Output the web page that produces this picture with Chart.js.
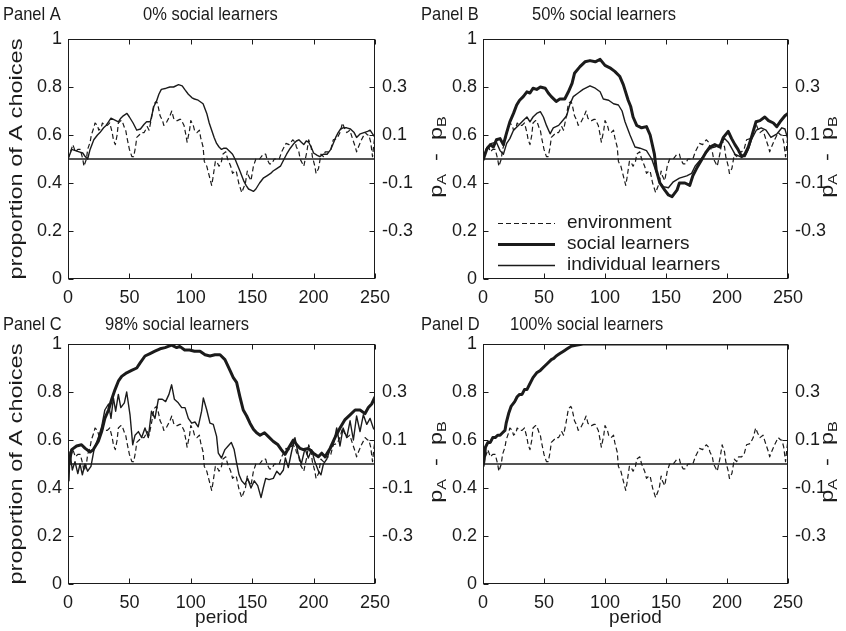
<!DOCTYPE html>
<html>
<head>
<meta charset="utf-8">
<script src="https://cdn.jsdelivr.net/npm/chart.js@4.4.1/dist/chart.umd.min.js"></script>
<style>
  html, body { margin: 0; padding: 0; background: #fff; }
  #wrap { position: relative; width: 846px; height: 631px; overflow: hidden; }
  canvas { position: absolute; }
</style>
</head>
<body>
<div id="wrap">
  <canvas id="panelA"></canvas>
  <canvas id="panelB"></canvas>
  <canvas id="panelC"></canvas>
  <canvas id="panelD"></canvas>
</div>
<script>
// Axis ticks
const periodTicks = [0, 50, 100, 150, 200, 250];
const shareTicks = [0, 0.2, 0.4, 0.6, 0.8, 1];
const diffTicks = [-0.3, -0.1, 0.1, 0.3];

// Zero line (pA - pB = 0)
const refPeriod = [0, 250];
const refShare = [0.5, 0.5];

// Environment: which option pays more (same in every panel)
const envPeriod = [0, 2, 4, 6, 8, 10, 12, 13, 15, 16, 18, 19, 21, 22, 24, 25, 27, 28, 30, 32,
  34, 36, 37, 38.5, 40, 41, 43, 44, 46, 47, 48, 50, 52, 53.5, 55, 56, 58, 60, 62, 63,
  64.5, 66, 68, 70, 72, 73, 75, 77, 78, 80, 81, 83, 84.5, 86, 88, 89, 91, 92, 94.5, 96,
  97, 99, 100, 102, 103, 105, 107, 108, 110, 111, 113, 114, 116, 117, 118, 120, 121, 123, 125, 126,
  128.5, 130, 132.5, 134, 136, 137, 139, 141.5, 143, 144.5, 146, 147, 149, 151, 153, 156, 159, 161, 162, 164,
  166, 168, 169.5, 172, 174, 176, 177.5, 180, 183, 185, 186, 188, 189, 191, 192, 194.5, 196, 198, 199, 201,
  202, 204, 206, 208, 209.5, 212, 214, 216, 219, 221.5, 223.5, 225, 227, 229.5, 232, 234, 235, 236.5, 239, 242,
  244, 245, 246.5, 248, 249, 250];
const envShare = [0.50, 0.53, 0.56, 0.53, 0.54, 0.54, 0.50, 0.47, 0.50, 0.54, 0.57, 0.60, 0.63, 0.65, 0.64, 0.62, 0.63, 0.65, 0.64, 0.64,
  0.65, 0.61, 0.58, 0.56, 0.60, 0.65, 0.66, 0.66, 0.63, 0.62, 0.59, 0.54, 0.51, 0.51, 0.55, 0.59, 0.60, 0.61, 0.61, 0.62,
  0.635, 0.62, 0.67, 0.73, 0.74, 0.73, 0.68, 0.66, 0.64, 0.65, 0.66, 0.68, 0.70, 0.67, 0.66, 0.66, 0.665, 0.665, 0.64, 0.60,
  0.57, 0.62, 0.66, 0.64, 0.62, 0.61, 0.62, 0.59, 0.55, 0.49, 0.47, 0.45, 0.41, 0.39, 0.42, 0.49, 0.49, 0.47, 0.49, 0.52,
  0.53, 0.50, 0.47, 0.44, 0.45, 0.45, 0.40, 0.36, 0.38, 0.40, 0.45, 0.43, 0.41, 0.47, 0.50, 0.50, 0.52, 0.52, 0.50, 0.48,
  0.48, 0.50, 0.50, 0.50, 0.53, 0.55, 0.565, 0.56, 0.58, 0.57, 0.55, 0.53, 0.50, 0.48, 0.47, 0.53, 0.58, 0.55, 0.51, 0.47,
  0.44, 0.46, 0.52, 0.51, 0.53, 0.53, 0.54, 0.58, 0.585, 0.61, 0.65, 0.63, 0.61, 0.62, 0.58, 0.55, 0.53, 0.55, 0.58, 0.61,
  0.60, 0.60, 0.57, 0.51, 0.56, 0.60];

// Panel A: individual learners only
const aIndPeriod = [0, 3, 6, 9, 12, 14, 16, 18, 21, 24, 26, 29, 31, 33, 35, 37, 39, 41, 43, 45,
  48, 50, 53, 56, 59, 62, 64, 67, 70, 72, 74, 76, 80, 83, 86, 90, 93, 95, 98, 101,
  103, 106, 110, 113, 115, 117, 119, 121, 123, 125, 127, 129, 132, 134, 136, 138, 140, 143, 145, 147,
  149, 151, 153, 156, 159, 162, 165, 167, 170, 173, 176, 178, 181, 184, 186, 188, 190, 192, 194, 196,
  198, 200, 203, 205, 208, 211, 214, 216, 218, 220, 222, 224, 227, 230, 233, 235, 238, 241, 244, 246, 248, 250];
const aIndShare = [0.50, 0.54, 0.535, 0.53, 0.525, 0.51, 0.50, 0.54, 0.58, 0.60, 0.61, 0.63, 0.64, 0.655, 0.67, 0.665, 0.66, 0.655, 0.67, 0.68,
  0.69, 0.675, 0.65, 0.62, 0.625, 0.645, 0.655, 0.655, 0.72, 0.74, 0.77, 0.79, 0.795, 0.80, 0.80, 0.81, 0.805, 0.79, 0.77, 0.755,
  0.75, 0.745, 0.73, 0.69, 0.65, 0.62, 0.59, 0.565, 0.55, 0.54, 0.545, 0.545, 0.53, 0.52, 0.50, 0.475, 0.45, 0.41, 0.39, 0.375,
  0.37, 0.365, 0.375, 0.40, 0.42, 0.43, 0.44, 0.45, 0.46, 0.47, 0.50, 0.52, 0.545, 0.565, 0.575, 0.58, 0.57, 0.56, 0.575, 0.57,
  0.55, 0.525, 0.515, 0.51, 0.52, 0.52, 0.54, 0.565, 0.59, 0.61, 0.625, 0.63, 0.63, 0.625, 0.61, 0.59, 0.605, 0.61, 0.615, 0.62, 0.605, 0.59];

// Panel B: 50% social learners
const bSocPeriod = [0, 3, 6, 8.5, 11, 14, 16.7, 19.4, 22, 25, 27.6, 30, 33, 36, 38.5, 41, 44, 47, 51, 53.5,
  56, 60, 63, 67, 70, 73, 75, 79.5, 83.6, 87.7, 92, 96, 100, 104, 108, 112, 115, 119, 121, 123,
  126, 130, 134, 137, 140.5, 142, 145, 149, 152, 155, 159, 161, 165.5, 169.5, 172, 175, 179, 183, 186, 190,
  194, 197, 201, 203.8, 206.5, 209, 212, 214.7, 217.5, 220, 223.8, 227, 231, 234, 238, 240.8, 243.5, 247.5, 250];
const bSocShare = [0.495, 0.54, 0.56, 0.55, 0.58, 0.585, 0.56, 0.61, 0.655, 0.69, 0.725, 0.745, 0.76, 0.78, 0.775, 0.795, 0.79, 0.80, 0.795, 0.775,
  0.76, 0.74, 0.75, 0.75, 0.78, 0.815, 0.857, 0.885, 0.905, 0.91, 0.905, 0.915, 0.89, 0.88, 0.865, 0.845, 0.81, 0.745, 0.72, 0.675,
  0.64, 0.63, 0.635, 0.60, 0.52, 0.455, 0.40, 0.37, 0.35, 0.343, 0.37, 0.40, 0.40, 0.39, 0.43, 0.46, 0.495, 0.53, 0.55, 0.56,
  0.55, 0.59, 0.615, 0.585, 0.56, 0.54, 0.51, 0.52, 0.55, 0.59, 0.655, 0.66, 0.675, 0.66, 0.65, 0.635, 0.655, 0.68, 0.69];
const bIndPeriod = [0, 3, 7, 11, 14, 16.7, 19.4, 22, 25, 29, 33, 36, 38.5, 41, 44, 47, 49.5, 52, 55, 57.6,
  62, 64.5, 68.6, 71, 74, 78, 82, 87.7, 92, 96, 98.6, 103, 107, 111, 114, 116.4, 120.5, 124.6, 128.7, 134,
  138.3, 141, 145, 147.8, 152, 156, 161, 167, 171, 173.8, 177.9, 182, 186, 190, 194, 198, 201, 203.8, 206.5, 210.7,
  214.7, 217.5, 220, 224, 228, 232, 236, 241, 245, 247.5, 250];
const bIndShare = [0.50, 0.545, 0.565, 0.57, 0.535, 0.52, 0.565, 0.585, 0.62, 0.64, 0.66, 0.675, 0.655, 0.675, 0.69, 0.697, 0.675, 0.64, 0.605, 0.63,
  0.64, 0.655, 0.68, 0.725, 0.76, 0.775, 0.79, 0.805, 0.795, 0.78, 0.75, 0.745, 0.73, 0.725, 0.70, 0.655, 0.60, 0.55, 0.545, 0.535,
  0.50, 0.46, 0.405, 0.385, 0.38, 0.405, 0.42, 0.43, 0.44, 0.47, 0.495, 0.52, 0.545, 0.55, 0.56, 0.585, 0.57, 0.545, 0.52, 0.51,
  0.51, 0.54, 0.58, 0.62, 0.63, 0.62, 0.59, 0.605, 0.63, 0.625, 0.58];

// Panel C: 98% social learners
const cSocPeriod = [0, 3, 7, 11, 14, 18, 20.6, 24.7, 27.4, 30, 33, 35.6, 38.3, 41, 43.7, 47.8, 51.8, 56, 58.6, 62.7,
  66.8, 70.8, 75, 79, 84.4, 88.5, 91, 95, 99, 103, 107.5, 111.6, 115.6, 119.7, 123.8, 127.8, 131.9, 134.6, 137.3, 140,
  142.7, 145.5, 148.2, 151, 153.6, 156.4, 160, 163, 167, 171, 173.7, 176.7, 179.4, 183.5, 186.3, 189, 191.6, 195.7, 199.8, 203.9,
  206.6, 209.3, 213.4, 217.4, 221.5, 225.6, 229.7, 233.8, 237.8, 241.9, 244.6, 247.3, 250];
const cSocShare = [0.48, 0.56, 0.575, 0.58, 0.565, 0.55, 0.56, 0.595, 0.635, 0.69, 0.725, 0.77, 0.81, 0.845, 0.865, 0.88, 0.89, 0.90, 0.92, 0.95,
  0.96, 0.97, 0.98, 0.985, 0.995, 0.985, 0.99, 0.975, 0.975, 0.97, 0.97, 0.955, 0.95, 0.955, 0.955, 0.935, 0.89, 0.86, 0.84, 0.78,
  0.725, 0.70, 0.67, 0.645, 0.63, 0.62, 0.63, 0.615, 0.595, 0.58, 0.56, 0.54, 0.565, 0.60, 0.58, 0.565, 0.56, 0.565, 0.545, 0.53,
  0.545, 0.53, 0.565, 0.61, 0.65, 0.685, 0.705, 0.725, 0.725, 0.71, 0.735, 0.75, 0.78];
const cIndPeriod = [0, 0.8, 1.6, 3.5, 5.7, 8, 9.8, 11.7, 13.8, 16, 18.7, 21.4, 24.7, 27.4, 30, 33, 35, 37, 38.8, 41,
  43, 45.9, 47.8, 50.5, 52.7, 54.6, 57.3, 60, 62.7, 65.4, 68, 70.8, 73.6, 76.8, 79.5, 82.2, 84.4, 86.6, 89.8, 92.6,
  95.3, 98, 100.7, 103.4, 106, 108.8, 110.2, 113, 115.6, 118.3, 121, 122.4, 125, 127.8, 130.4, 133, 135.3, 137.3, 139.3, 141.4,
  144, 146.3, 149, 151.7, 154.5, 157.2, 159, 161, 163.7, 167.2, 170, 172.6, 175.4, 177, 179.4, 182, 184.8, 187.5, 190, 193,
  195.7, 198.4, 201, 204, 206, 208, 210.7, 213.4, 216, 218.8, 221.5, 224, 227, 229.7, 232.4, 235, 237.8, 240.5, 243.3, 246,
  248.6, 250];
const cIndShare = [0.47, 0.43, 0.55, 0.475, 0.51, 0.46, 0.50, 0.455, 0.50, 0.47, 0.49, 0.565, 0.61, 0.655, 0.725, 0.75, 0.69, 0.775, 0.72, 0.79,
  0.735, 0.755, 0.80, 0.705, 0.58, 0.62, 0.635, 0.61, 0.65, 0.61, 0.72, 0.69, 0.77, 0.77, 0.76, 0.79, 0.83, 0.77, 0.755, 0.735,
  0.735, 0.69, 0.67, 0.675, 0.655, 0.72, 0.775, 0.725, 0.67, 0.665, 0.615, 0.545, 0.525, 0.56, 0.575, 0.59, 0.56, 0.505, 0.455, 0.43,
  0.415, 0.44, 0.40, 0.43, 0.41, 0.36, 0.40, 0.44, 0.435, 0.44, 0.47, 0.455, 0.475, 0.525, 0.485, 0.55, 0.61, 0.54, 0.50, 0.565,
  0.525, 0.56, 0.51, 0.47, 0.455, 0.50, 0.52, 0.56, 0.58, 0.65, 0.575, 0.65, 0.61, 0.68, 0.60, 0.70, 0.635, 0.705, 0.665, 0.69,
  0.65, 0.64];

// Panel D: 100% social learners
const dSocPeriod = [0, 1, 2, 4, 6, 8, 10, 12, 14, 16, 18, 19, 21, 23, 26, 28, 30, 32, 34, 36,
  38, 41, 44, 47, 50, 53, 56, 58, 60, 63, 66, 69, 72, 76, 82, 90, 250];
const dSocShare = [0.49, 0.52, 0.57, 0.59, 0.59, 0.61, 0.61, 0.62, 0.62, 0.63, 0.64, 0.67, 0.71, 0.74, 0.76, 0.78, 0.79, 0.79, 0.81, 0.81,
  0.83, 0.86, 0.88, 0.89, 0.905, 0.92, 0.935, 0.94, 0.95, 0.96, 0.97, 0.98, 0.99, 0.995, 1, 1, 1];

const FONT = '"Liberation Sans", Arial, Helvetica, sans-serif';
const INK = '#1b1b1b';
const STRETCH = 1.24; // rotated labels run long

Chart.defaults.font.family = FONT;
Chart.defaults.font.size = 18;
Chart.defaults.color = INK;

function pts(xs, ys) {
  return xs.map((x, i) => ({ x: x, y: ys[i] }));
}

function envSet() {
  return { label: 'environment', data: pts(envPeriod, envShare), borderColor: INK, borderWidth: 1.2, borderDash: [5, 3] };
}
function refSet() {
  return { label: 'zero', data: pts(refPeriod, refShare), borderColor: INK, borderWidth: 1.3 };
}
function socSet(xs, ys) {
  return { label: 'social learners', data: pts(xs, ys), borderColor: INK, borderWidth: 3 };
}
function indSet(xs, ys) {
  return { label: 'individual learners', data: pts(xs, ys), borderColor: INK, borderWidth: 1.4 };
}

// box, inward ticks, headings, axis labels and the legend
const decorPlugin = {
  id: 'decor',
  afterDatasetsDraw(chart) {
    const { ctx, chartArea: a, scales } = chart;
    const L = Math.round(a.left) + 0.5, R = Math.round(a.right) - 0.5;
    const T = Math.round(a.top) + 0.5, B = Math.round(a.bottom) - 0.5;
    ctx.save();
    ctx.strokeStyle = INK;
    ctx.lineWidth = 1;
    ctx.setLineDash([]);
    ctx.strokeRect(L, T, R - L, B - T);
    ctx.beginPath();
    periodTicks.forEach(v => {
      const px = Math.round(scales.x.getPixelForValue(v)) + 0.5;
      ctx.moveTo(px, B); ctx.lineTo(px, B - 5);
      ctx.moveTo(px, T); ctx.lineTo(px, T + 5);
    });
    shareTicks.forEach(v => {
      const py = Math.round(scales.y.getPixelForValue(v)) + 0.5;
      ctx.moveTo(L, py); ctx.lineTo(L + 5, py);
    });
    diffTicks.forEach(v => {
      const py = Math.round(scales.y2.getPixelForValue(v)) + 0.5;
      ctx.moveTo(R, py); ctx.lineTo(R - 5, py);
    });
    ctx.stroke();
    ctx.restore();
  },
  afterDraw(chart, args, opts) {
    const { ctx, chartArea: a } = chart;
    const midY = (a.top + a.bottom) / 2;

    // panel tag and heading
    ctx.save();
    ctx.fillStyle = INK;
    ctx.font = '16.5px ' + FONT;
    ctx.textBaseline = 'middle';
    ctx.textAlign = 'left';
    [[opts.tag, opts.tagX], [opts.heading, opts.headX]].forEach(t => {
      ctx.save();
      ctx.translate(t[1], opts.textY);
      ctx.scale(1, 1.15);
      ctx.fillText(t[0], 0, 0);
      ctx.restore();
    });
    ctx.restore();

    // left axis name
    if (opts.yName) {
      ctx.save();
      ctx.fillStyle = INK;
      ctx.font = '19px ' + FONT;
      ctx.textBaseline = 'middle';
      ctx.textAlign = 'center';
      ctx.translate(opts.yNameX, midY);
      ctx.rotate(-Math.PI / 2);
      ctx.scale(STRETCH, 1);
      ctx.fillText(opts.yName, 0, 0);
      ctx.restore();
    }

    // p_A - p_B, rotated, with subscripts
    ctx.save();
    ctx.fillStyle = INK;
    ctx.textBaseline = 'middle';
    ctx.textAlign = 'left';
    const parts = [['p', 19, 0], ['A', 13, 5], ['  -  ', 19, 0], ['p', 19, 0], ['B', 13, 5]];
    let total = 0;
    parts.forEach(p => { ctx.font = p[1] + 'px ' + FONT; total += ctx.measureText(p[0]).width; });
    ctx.translate(a.right + opts.diffOffset, midY - 2);
    ctx.rotate(-Math.PI / 2);
    ctx.scale(STRETCH, 1);
    let x = -total / 2;
    parts.forEach(p => {
      ctx.font = p[1] + 'px ' + FONT;
      ctx.fillText(p[0], x, p[2]);
      x += ctx.measureText(p[0]).width;
    });
    ctx.restore();

    if (opts.legend) {
      const rows = chart.data.datasets.filter(d => d.label !== 'zero');
      const order = ['environment', 'social learners', 'individual learners'];
      ctx.save();
      ctx.font = '19px ' + FONT;
      ctx.textBaseline = 'middle';
      ctx.fillStyle = INK;
      order.forEach((name, i) => {
        const ds = rows.find(d => d.label === name);
        const y = opts.legend.y + i * opts.legend.gap;
        ctx.beginPath();
        ctx.strokeStyle = ds.borderColor;
        ctx.lineWidth = ds.borderWidth;
        ctx.setLineDash(ds.borderDash || []);
        ctx.moveTo(opts.legend.x, y + 0.5);
        ctx.lineTo(opts.legend.x + opts.legend.len, y + 0.5);
        ctx.stroke();
        ctx.fillText(name, opts.legend.x + opts.legend.len + 12, y);
      });
      ctx.restore();
    }
  }
};

function makePanel(id, geo, datasets, decor, xTitle) {
  const c = document.getElementById(id);
  c.width = geo.w; c.height = geo.h;
  c.style.left = geo.x + 'px';
  c.style.top = geo.y + 'px';
  const leftW = geo.l - geo.x;
  const rightW = geo.x + geo.w - geo.r;
  const bottomH = geo.y + geo.h - geo.b;
  const topPad = geo.t - geo.y;

  new Chart(c, {
    type: 'line',
    data: { datasets: datasets },
    plugins: [decorPlugin],
    options: {
      responsive: false,
      animation: false,
      events: [],
      layout: { padding: { top: topPad, left: 0, right: 0, bottom: 0 } },
      elements: { point: { radius: 0 }, line: { tension: 0, borderCapStyle: 'butt', borderJoinStyle: 'round' } },
      plugins: {
        legend: { display: false },
        tooltip: { enabled: false },
        decor: decor
      },
      scales: {
        x: {
          type: 'linear', min: 0, max: 250,
          afterBuildTicks: s => { s.ticks = periodTicks.map(v => ({ value: v })); },
          afterFit: s => { s.height = bottomH; },
          grid: { display: false, drawTicks: false },
          border: { display: false },
          ticks: { padding: 8, maxRotation: 0, autoSkip: false, color: INK, callback: v => String(v) },
          title: { display: !!xTitle, text: xTitle || '', color: INK, font: { size: 19 }, padding: { top: 0, bottom: 2 } }
        },
        y: {
          type: 'linear', position: 'left', min: 0, max: 1,
          afterBuildTicks: s => { s.ticks = shareTicks.map(v => ({ value: v })); },
          afterFit: s => { s.width = leftW; },
          grid: { display: false, drawTicks: false },
          border: { display: false },
          ticks: { padding: 6, autoSkip: false, color: INK, callback: v => String(Math.round(v * 10) / 10) }
        },
        y2: {
          type: 'linear', position: 'right', min: -0.5, max: 0.5,
          afterBuildTicks: s => { s.ticks = diffTicks.map(v => ({ value: v })); },
          afterFit: s => { s.width = rightW; },
          grid: { display: false, drawTicks: false },
          border: { display: false },
          ticks: { padding: 7, autoSkip: false, color: INK, callback: v => String(Math.round(v * 10) / 10) }
        }
      }
    }
  });
}

const yName = 'proportion of A choices';

makePanel('panelA',
  { x: 0, y: 0, w: 450, h: 315, l: 68, t: 39, r: 375, b: 279 },
  [refSet(), envSet(), indSet(aIndPeriod, aIndShare)],
  { tag: 'Panel A', tagX: 3, heading: '0% social learners', headX: 143, textY: 15, diffOffset: 62,
    yName: yName, yNameX: 17 },
  null);

makePanel('panelB',
  { x: 400, y: 0, w: 446, h: 315, l: 483, t: 39, r: 788, b: 279 },
  [refSet(), envSet(), indSet(bIndPeriod, bIndShare), socSet(bSocPeriod, bSocShare)],
  { tag: 'Panel B', tagX: 21, heading: '50% social learners', headX: 132, textY: 15, diffOffset: 40,
    legend: { x: 98, y: 223, gap: 21, len: 57 } },
  null);

makePanel('panelC',
  { x: 0, y: 305, w: 450, h: 326, l: 68, t: 344, r: 375, b: 584 },
  [refSet(), envSet(), indSet(cIndPeriod, cIndShare), socSet(cSocPeriod, cSocShare)],
  { tag: 'Panel C', tagX: 3, heading: '98% social learners', headX: 105, textY: 20, diffOffset: 62,
    yName: yName, yNameX: 17 },
  'period');

makePanel('panelD',
  { x: 400, y: 305, w: 446, h: 326, l: 483, t: 344, r: 788, b: 584 },
  [refSet(), envSet(), socSet(dSocPeriod, dSocShare)],
  { tag: 'Panel D', tagX: 21, heading: '100% social learners', headX: 110, textY: 20, diffOffset: 40 },
  'period');
</script>
</body>
</html>
